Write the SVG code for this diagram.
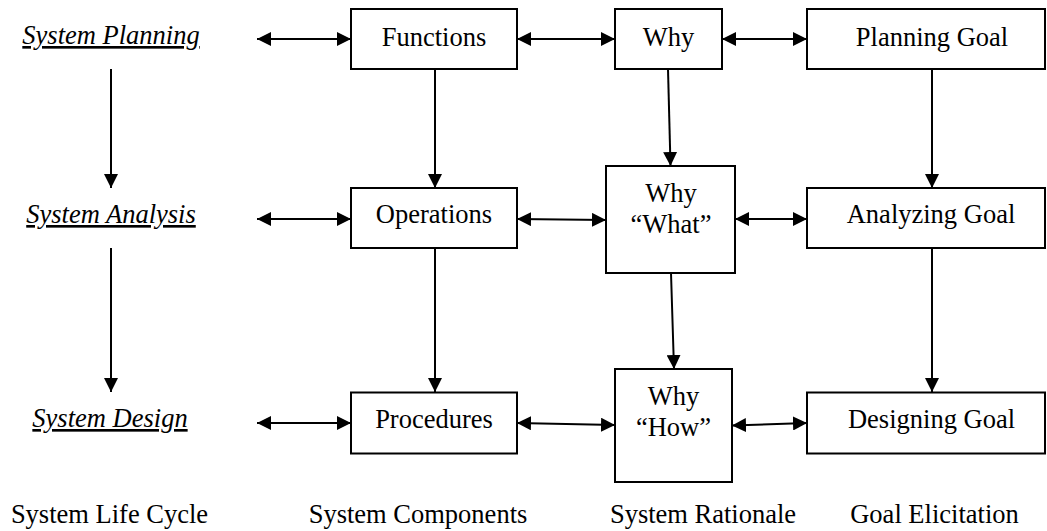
<svg xmlns="http://www.w3.org/2000/svg" width="1047" height="531" viewBox="0 0 1047 531">
<style>
  text { font-family: "Liberation Serif", "Times New Roman", serif; font-size: 26.5px; fill: #000; text-anchor: middle; }
  .phase { font-style: italic; text-decoration: underline; }
  .box { fill: #fff; stroke: #000; stroke-width: 2; }
  .conn line { stroke: #000; stroke-width: 2; fill: none; }
  .uni { marker-end: url(#ah); }
  .bi { marker-start: url(#ah); marker-end: url(#ah); }
</style>
<defs>
  <marker id="ah" markerUnits="userSpaceOnUse" markerWidth="15" markerHeight="14" refX="14" refY="7" orient="auto-start-reverse" viewBox="0 0 15 14">
    <path d="M0,0 L14,7 L0,14 z" fill="#000"/>
  </marker>
</defs>
<rect width="1047" height="531" fill="#fff"/>

<g id="connectors" class="conn">
  <!-- life cycle column -->
  <line class="uni" x1="111" y1="69" x2="111" y2="188"/>
  <line class="uni" x1="111" y1="248" x2="111" y2="392"/>
  <line class="bi" x1="257" y1="39" x2="351" y2="39"/>
  <line class="bi" x1="257" y1="219" x2="351" y2="219"/>
  <line class="bi" x1="257" y1="423" x2="351" y2="423"/>
  <!-- components column -->
  <line class="uni" x1="435" y1="69" x2="435" y2="188"/>
  <line class="uni" x1="435" y1="248" x2="435" y2="392"/>
  <!-- rationale column -->
  <line class="uni" x1="668" y1="69" x2="670.5" y2="166"/>
  <line class="uni" x1="671" y1="273" x2="674" y2="369"/>
  <!-- goal column -->
  <line class="uni" x1="932" y1="69" x2="932" y2="188"/>
  <line class="uni" x1="932" y1="248" x2="932" y2="392"/>
  <!-- horizontal links -->
  <line class="bi" x1="517" y1="39" x2="615" y2="39"/>
  <line class="bi" x1="722" y1="39" x2="807" y2="39"/>
  <line class="bi" x1="517" y1="219" x2="606" y2="220"/>
  <line class="bi" x1="735" y1="219" x2="807" y2="219"/>
  <line class="bi" x1="517" y1="423" x2="615" y2="425"/>
  <line class="bi" x1="732" y1="425.5" x2="807" y2="423"/>
</g>

<g id="system-planning"><text class="phase" x="111" y="44">System Planning</text></g>
<g id="system-analysis"><text class="phase" x="111" y="223">System Analysis</text></g>
<g id="system-design"><text class="phase" x="110" y="427">System Design</text></g>

<g id="functions"><rect class="box" x="351" y="9" width="166" height="60"/><text x="434" y="45.5">Functions</text></g>
<g id="operations"><rect class="box" x="351" y="188" width="166" height="60"/><text x="434" y="223">Operations</text></g>
<g id="procedures"><rect class="box" x="351" y="392.5" width="166" height="61"/><text x="434" y="428">Procedures</text></g>

<g id="why"><rect class="box" x="615" y="9" width="107" height="60"/><text x="668.5" y="45.5">Why</text></g>
<g id="why-what"><rect class="box" x="606" y="166" width="129" height="107"/><text x="671" y="201.5">Why</text><text x="671" y="233">“What”</text></g>
<g id="why-how"><rect class="box" x="615" y="369" width="117" height="113"/><text x="673.5" y="405">Why</text><text x="673.5" y="435.5">“How”</text></g>

<g id="planning-goal"><rect class="box" x="807" y="9" width="238" height="60"/><text x="932" y="45.5">Planning Goal</text></g>
<g id="analyzing-goal"><rect class="box" x="807" y="188" width="238" height="60"/><text x="931" y="223">Analyzing Goal</text></g>
<g id="designing-goal"><rect class="box" x="807" y="392.5" width="238" height="61"/><text x="931.5" y="428">Designing Goal</text></g>

<g id="footer">
  <text x="109.5" y="523">System Life Cycle</text>
  <text x="418" y="523">System Components</text>
  <text x="703" y="523">System Rationale</text>
  <text x="934.5" y="523">Goal Elicitation</text>
</g>
</svg>
